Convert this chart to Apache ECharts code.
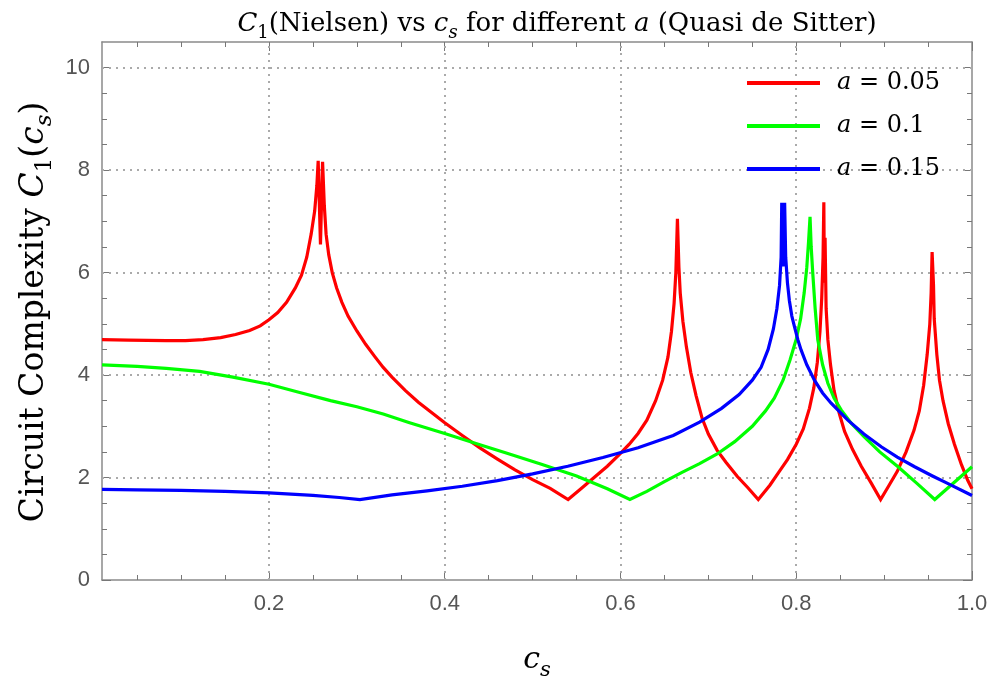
<!DOCTYPE html>
<html><head><meta charset="utf-8">
<script src="https://cdn.jsdelivr.net/npm/echarts@6/dist/echarts.min.js"></script>
<style>html,body{margin:0;padding:0;background:#fff}#c{width:994px;height:684px}</style>
</head><body><div id="c"></div>
<script>
// ---- data ----
const seriesNames = ['a = 0.05', 'a = 0.1', 'a = 0.15'];

const csRed = [0.01,0.04,0.083,0.105,0.125,0.145,0.162,0.178,0.19,0.2,0.21,0.22,0.23,0.237,0.243,0.248,0.252,0.2545,0.256,0.2586,0.261,0.263,0.265,0.268,0.272,0.277,0.283,0.29,0.3,0.31,0.32,0.33,0.34,0.355,0.37,0.385,0.4,0.42,0.44,0.46,0.48,0.5,0.52,0.5404,0.555,0.57,0.585,0.6,0.61,0.62,0.63,0.64,0.648,0.654,0.658,0.661,0.663,0.6648,0.6665,0.668,0.671,0.675,0.68,0.686,0.693,0.7,0.71,0.72,0.733,0.745,0.7568,0.77,0.78,0.79,0.8,0.808,0.815,0.82,0.824,0.827,0.829,0.8305,0.8314,0.832,0.8328,0.834,0.836,0.839,0.843,0.849,0.855,0.864,0.874,0.885,0.896,0.905,0.915,0.925,0.934,0.94,0.945,0.949,0.952,0.9535,0.9546,0.9562,0.957,0.96,0.963,0.967,0.973,0.98,0.988,0.995,1.0];
const c1Red = [4.69,4.68,4.67,4.67,4.69,4.73,4.79,4.87,4.96,5.08,5.22,5.42,5.7,5.95,6.3,6.75,7.2,7.7,8.18,6.55,8.16,7.3,6.75,6.35,6.0,5.7,5.42,5.15,4.86,4.6,4.37,4.15,3.96,3.7,3.47,3.27,3.07,2.82,2.58,2.36,2.15,1.96,1.79,1.57,1.78,2.0,2.22,2.47,2.65,2.86,3.12,3.5,3.9,4.35,4.85,5.4,6.0,7.05,6.1,5.6,5.05,4.55,4.05,3.6,3.15,2.85,2.53,2.3,2.02,1.8,1.57,1.85,2.1,2.35,2.65,2.95,3.35,3.75,4.25,4.85,5.5,6.3,7.37,5.8,6.68,5.3,4.69,4.2,3.7,3.25,2.9,2.55,2.22,1.9,1.57,1.83,2.12,2.5,2.92,3.3,3.8,4.4,5.0,5.6,6.4,5.75,5.1,4.4,3.9,3.5,3.05,2.65,2.25,1.95,1.78];

const csGreen = [0.01,0.05,0.083,0.121,0.159,0.2,0.235,0.27,0.3,0.33,0.36,0.4,0.44,0.47,0.51,0.55,0.585,0.6107,0.63,0.65,0.67,0.69,0.71,0.73,0.75,0.765,0.775,0.785,0.793,0.8,0.805,0.809,0.812,0.814,0.8157,0.817,0.8188,0.8215,0.8245,0.83,0.836,0.843,0.8511,0.863,0.8777,0.895,0.9158,0.937,0.9576,1.0];
const c1Green = [4.2,4.17,4.13,4.07,3.96,3.82,3.66,3.5,3.38,3.24,3.07,2.86,2.64,2.48,2.26,2.03,1.78,1.57,1.73,1.92,2.1,2.27,2.46,2.7,3.0,3.3,3.55,3.9,4.3,4.7,5.1,5.6,6.1,6.6,7.09,6.5,5.99,5.3,4.69,4.2,3.84,3.55,3.32,3.05,2.79,2.5,2.21,1.89,1.57,2.21];

const csBlue = [0.01,0.05,0.1,0.15,0.2,0.25,0.28,0.3035,0.34,0.38,0.42,0.46,0.5,0.54,0.58,0.62,0.66,0.69,0.715,0.735,0.75,0.76,0.768,0.774,0.778,0.781,0.7828,0.7835,0.785,0.7868,0.788,0.79,0.7922,0.795,0.7979,0.802,0.8055,0.812,0.8207,0.83,0.8397,0.8587,0.877,0.8967,0.915,0.9347,0.955,0.9728,1.0];
const c1Blue = [1.77,1.76,1.75,1.73,1.70,1.65,1.61,1.57,1.66,1.74,1.83,1.94,2.07,2.22,2.39,2.58,2.82,3.08,3.35,3.62,3.9,4.15,4.5,4.9,5.3,5.75,6.3,7.36,6.12,7.36,6.3,5.8,5.45,5.15,4.95,4.68,4.49,4.2,3.9,3.65,3.45,3.12,2.85,2.6,2.4,2.21,2.03,1.88,1.65];

const xMajorTicks = [0.2, 0.4, 0.6, 0.8, 1.0];
const xMinorTicks = [0.05,0.1,0.15,0.25,0.3,0.35,0.45,0.5,0.55,0.65,0.7,0.75,0.85,0.9,0.95];
const yMajorTicks = [0, 2, 4, 6, 8, 10];
const yMinorTicks = [0.5,1,1.5,2.5,3,3.5,4.5,5,5.5,6.5,7,7.5,8.5,9,9.5];
const xGridLines = [0.2, 0.4, 0.6, 0.8];
const yGridLines = [2, 4, 6, 8, 10];
const colors = ['#ff0000', '#00ff00', '#0000ff'];

// ---- chart ----
const zip = (a, b) => a.map((v, i) => [v, b[i]]);
const SERIF = 'DejaVu Serif';
const TICKFONT = 'Liberation Sans, sans-serif';
const frameColor = '#8a8a8a';
const tickColor = '#777';

function xAxisDef(pos, ticks, len, showLine, labels) {
  return {
    type: 'value', position: pos, min: 0.01, max: 1.0, gridIndex: 0,
    axisLine: { show: showLine, onZero: false, lineStyle: { color: frameColor, width: 1.5 } },
    axisTick: { show: true, inside: true, length: len, customValues: ticks, lineStyle: { color: tickColor, width: 1 } },
    axisLabel: labels ? { show: true, customValues: xMajorTicks, formatter: v => v.toFixed(1), color: '#555', fontFamily: TICKFONT, fontSize: 22, margin: 13 } : { show: false },
    splitLine: { show: false }
  };
}
function yAxisDef(pos, ticks, len, showLine, labels) {
  return {
    type: 'value', position: pos, min: 0, max: 10.5, gridIndex: 0,
    axisLine: { show: showLine, onZero: false, lineStyle: { color: frameColor, width: 1.5 } },
    axisTick: { show: true, inside: true, length: len, customValues: ticks, lineStyle: { color: tickColor, width: 1 } },
    axisLabel: labels ? { show: true, customValues: yMajorTicks, formatter: v => String(v), color: '#555', fontFamily: TICKFONT, fontSize: 22, margin: 12 } : { show: false },
    splitLine: { show: false }
  };
}

const richBase = {
  r: { fontFamily: SERIF, fontWeight: 'normal', fontSize: 23, color: '#000', lineHeight: 32 },
  i: { fontFamily: SERIF, fontWeight: 'normal', fontStyle: 'italic', fontSize: 23, color: '#000', lineHeight: 32 },
  sub: { fontFamily: SERIF, fontWeight: 'normal', fontSize: 16, color: '#000', lineHeight: 22, verticalAlign: 'bottom' },
  isub: { fontFamily: SERIF, fontWeight: 'normal', fontStyle: 'italic', fontSize: 16, color: '#000', lineHeight: 22, verticalAlign: 'bottom' }
};
function scaled(k) {
  const o = {};
  for (const key in richBase) {
    o[key] = Object.assign({}, richBase[key], { fontSize: Math.round(richBase[key].fontSize * k), lineHeight: Math.round(richBase[key].lineHeight * k) });
  }
  return o;
}

const chart = echarts.init(document.getElementById('c'), null, { renderer: 'canvas' });
const lineSeries = [[csRed, c1Red], [csGreen, c1Green], [csBlue, c1Blue]].map((d, i) => ({
  name: seriesNames[i], type: 'line', data: zip(d[0], d[1]),
  xAxisIndex: 0, yAxisIndex: 0, showSymbol: false, symbol: 'none', smooth: false,
  color: colors[i], lineStyle: { color: colors[i], width: 3.2, join: 'miter', miterLimit: 3 }, z: 3 + i, clip: true
}));

chart.setOption({
  animation: false,
  backgroundColor: '#fff',
  grid: { left: 102, right: 22, top: 42, bottom: 104, containLabel: false },
  title: {
    text: '{i|C}{sub|1}{r|(Nielsen) vs }{i|c}{isub|s}{r| for different }{i|a}{r| (Quasi de Sitter)}',
    left: 552, top: 1, textAlign: 'center',
    textStyle: { fontWeight: 'normal', rich: scaled(1.12) }
  },
  legend: {
    orient: 'vertical', left: 742, top: 66, itemGap: 19,
    icon: 'rect', itemWidth: 73, itemHeight: 4,
    data: seriesNames,
    formatter: name => '{sp|}{i|a}{r| = ' + name.split('= ')[1] + '}',
    textStyle: { fontWeight: 'normal', rich: Object.assign({ sp: { width: 12 } }, scaled(1.06)) }
  },
  xAxis: [
    xAxisDef('bottom', xMajorTicks, 9, true, true),
    xAxisDef('bottom', xMinorTicks, 5, false, false),
    xAxisDef('top', xMajorTicks, 9, true, false),
    xAxisDef('top', xMinorTicks, 5, false, false)
  ],
  yAxis: [
    yAxisDef('left', yMajorTicks, 9, true, true),
    yAxisDef('left', yMinorTicks, 5, false, false),
    yAxisDef('right', yMajorTicks, 9, true, false),
    yAxisDef('right', yMinorTicks, 5, false, false)
  ],
  graphic: [
    { type: 'text', x: 34, y: 312, rotation: Math.PI / 2, z: 10,
      style: { text: '{r|Circuit Complexity }{i|C}{sub|1}{r|(}{i|c}{isub|s}{r|)}', align: 'center', verticalAlign: 'middle', rich: scaled(1.42) } },
    { type: 'text', x: 537, y: 660, z: 10,
      style: { text: '{i|c}{isub|s}', align: 'center', verticalAlign: 'middle', rich: scaled(1.3) } }
  ],
  series: [{
    type: 'line', data: [], xAxisIndex: 0, yAxisIndex: 0, silent: true, z: 1,
    markLine: {
      silent: true, symbol: ['none', 'none'], z: 1, animation: false,
      label: { show: false },
      lineStyle: { color: '#aaa', width: 2, type: [2, 5] },
      emphasis: { disabled: true },
      data: xGridLines.map(v => ({ xAxis: v })).concat(yGridLines.map(v => ({ yAxis: v })))
    }
  }].concat(lineSeries)
});
</script></body></html>
